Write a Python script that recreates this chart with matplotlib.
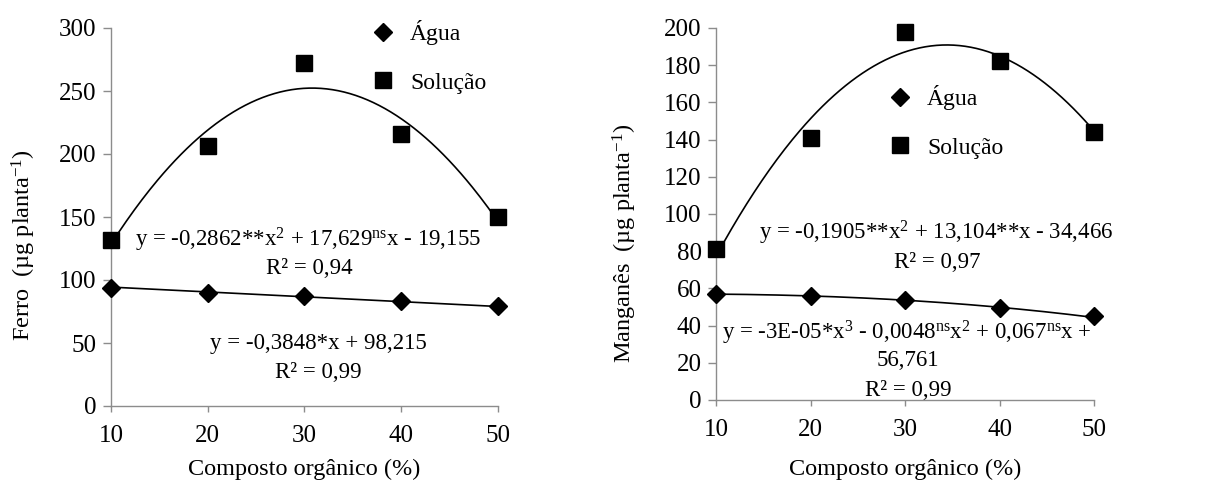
import numpy as np
import matplotlib
matplotlib.use("Agg")
import matplotlib.pyplot as plt
from matplotlib.lines import Line2D

plt.rcParams["font.family"] = ["Liberation Serif", "DejaVu Serif"]
plt.rcParams["mathtext.fontset"] = "custom"
plt.rcParams["mathtext.rm"] = "Liberation Serif"
plt.rcParams["mathtext.it"] = "Liberation Serif:italic"
plt.rcParams["mathtext.bf"] = "Liberation Serif:bold"

# Composto orgânico (%)
composto = [10, 20, 30, 40, 50]

# Ferro (µg planta-1)
ferro_agua = [94, 90, 87, 83, 79]
ferro_solucao = [132, 206, 272, 216, 150]

# Manganês (µg planta-1)
mn_agua = [57, 56, 54, 49.5, 45]
mn_solucao = [81, 141, 198, 182, 144]

# Regression coefficients (highest degree first)
ferro_agua_fit = [-0.3848, 98.215]
ferro_sol_fit = [-0.2862, 17.629, -19.155]
mn_agua_fit = [-3e-05, -0.0048, 0.067, 56.761]
mn_sol_fit = [-0.1905, 13.104, -34.466]

TICK_FS = 18
LABEL_FS = 17.5
EQ_FS = 16.5
LEG_FS = 17
SPINE = "#8c8c8c"

fig = plt.figure(figsize=(12.09, 4.82), dpi=100)
W, H = 1209, 482


def px_axes(l, r, b, t):
    return fig.add_axes([l / W, 1 - b / H, (r - l) / W, (b - t) / H])


def px_text(x, y, s):
    fig.text(x / W, 1 - y / H, s, fontsize=EQ_FS, ha="center", va="center")


def style(ax, ymax, ystep):
    ax.set_xlim(10, 50)
    ax.set_ylim(0, ymax)
    ax.set_xticks(composto)
    ax.set_yticks(np.arange(0, ymax + 1, ystep))
    for s in ("top", "right"):
        ax.spines[s].set_visible(False)
    for s in ("left", "bottom"):
        ax.spines[s].set_color(SPINE)
        ax.spines[s].set_linewidth(1.0)
    ax.tick_params(axis="both", colors=SPINE, labelcolor="black",
                   labelsize=TICK_FS, width=1.0, direction="out")
    ax.tick_params(axis="y", length=5.5, pad=5)
    ax.tick_params(axis="x", length=4.5, pad=9)


xs = np.linspace(10, 50, 200)

# ---- Ferro ----
ax1 = px_axes(111, 497.7, 406, 28)
style(ax1, 300, 50)
ax1.plot(xs, np.polyval(ferro_sol_fit, xs), color="black", lw=1.2, zorder=2)
ax1.plot(xs, np.polyval(ferro_agua_fit, xs), color="black", lw=1.2, zorder=2)
ax1.plot(composto, ferro_agua, "D", color="black", ms=9.5, clip_on=False, zorder=3)
ax1.plot(composto, ferro_solucao, "s", color="black", ms=11.5, clip_on=False, zorder=3)
ax1.set_xlabel("Composto orgânico (%)", fontsize=LABEL_FS)
ax1.set_ylabel(r"Ferro  (µg planta$^{-1}$)", fontsize=LABEL_FS)
ax1.yaxis.set_label_coords(-0.19, 0.425)
ax1.xaxis.set_label_coords(0.5, -0.14)

px_text(308, 240, r"y = -0,2862**x$^{2}$ + 17,629$^{\mathrm{ns}}$x - 19,155")
px_text(309, 269, "R² = 0,94")
px_text(318, 343, "y = -0,3848*x + 98,215")
px_text(318, 373, "R² = 0,99")

# ---- Manganês ----
ax2 = px_axes(716.3, 1094.3, 400, 28)
style(ax2, 200, 20)
ax2.plot(xs, np.polyval(mn_sol_fit, xs), color="black", lw=1.2, zorder=2)
ax2.plot(xs, np.polyval(mn_agua_fit, xs), color="black", lw=1.2, zorder=2)
ax2.plot(composto, mn_agua, "D", color="black", ms=9.5, clip_on=False, zorder=3)
ax2.plot(composto, mn_solucao, "s", color="black", ms=11.5, clip_on=False, zorder=3)
ax2.set_xlabel("Composto orgânico (%)", fontsize=LABEL_FS)
ax2.set_ylabel(r"Manganês  (µg planta$^{-1}$)", fontsize=LABEL_FS)
ax2.yaxis.set_label_coords(-0.205, 0.42)
ax2.xaxis.set_label_coords(0.5, -0.158)

px_text(936, 233, r"y = -0,1905**x$^{2}$ + 13,104**x - 34,466")
px_text(937, 263, "R² = 0,97")
px_text(907, 333,
        r"y = -3E-05*x$^{3}$ - 0,0048$^{\mathrm{ns}}$x$^{2}$ + 0,067$^{\mathrm{ns}}$x +")
px_text(908, 360, "56,761")
px_text(908, 390, "R² = 0,99")

# ---- Legends ----
handles = [
    Line2D([], [], ls="none", marker="D", color="black", ms=9.5),
    Line2D([], [], ls="none", marker="s", color="black", ms=11.5),
]
labels = ["Água", "Solução"]
for ax, (lx, ty) in ((ax1, (371, 20)), (ax2, (888, 85))):
    ax.legend(handles, labels, loc="upper left", frameon=False, fontsize=LEG_FS,
              bbox_to_anchor=(lx / W, 1 - ty / H), bbox_transform=fig.transFigure,
              borderpad=0, borderaxespad=0, handlelength=1.0, handletextpad=0.65,
              labelspacing=1.15, numpoints=1)

fig.savefig("out.png", dpi=100)
